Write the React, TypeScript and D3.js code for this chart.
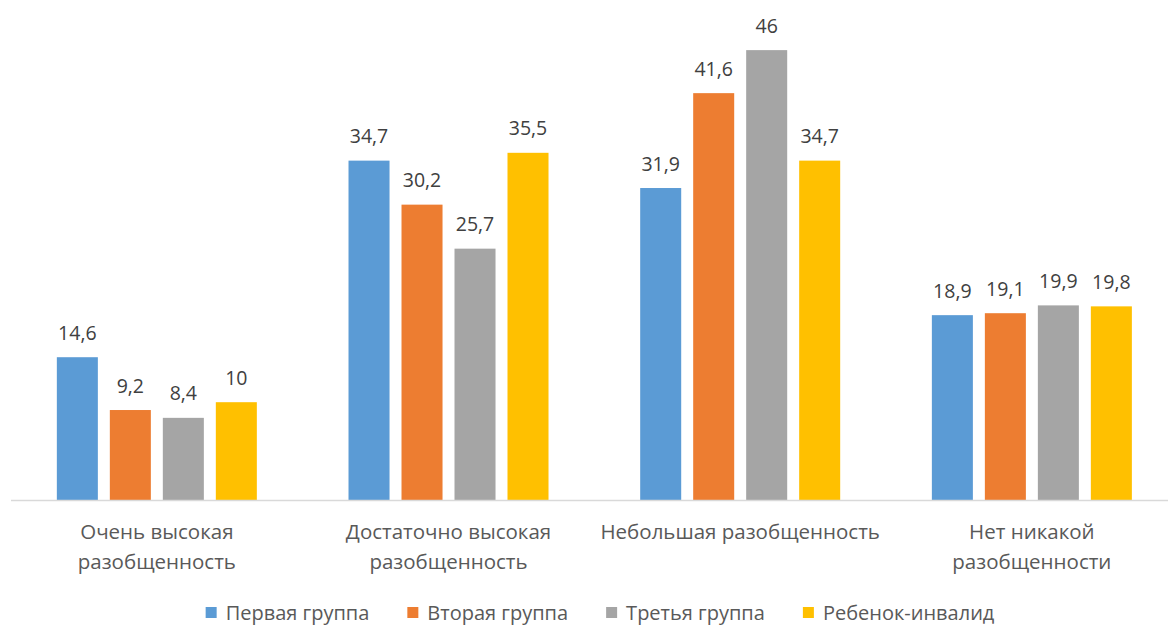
import React from "react";
import * as d3 from "d3";

const categories = [
  ["Очень высокая", "разобщенность"],
  ["Достаточно высокая", "разобщенность"],
  ["Небольшая разобщенность"],
  ["Нет никакой", "разобщенности"],
];
const seriesNames = ["Первая группа", "Вторая группа", "Третья группа", "Ребенок-инвалид"];
const seriesColors = ["#5B9BD5", "#ED7D31", "#A5A5A5", "#FFC000"];
const values = [
  [14.6, 34.7, 31.9, 18.9],
  [9.2, 30.2, 41.6, 19.1],
  [8.4, 25.7, 46, 19.9],
  [10, 35.5, 34.7, 19.8],
];

const W = 1168;
const H = 625;
const FONT = "'Open Sans', sans-serif";

function measure(text: string, size: number) {
  if (typeof document === "undefined") return text.length * size * 0.55;
  const c = document.createElement("canvas").getContext("2d");
  if (!c) return text.length * size * 0.55;
  c.font = `${size}px 'Open Sans'`;
  return c.measureText(text).width;
}

export default function App() {
  const catIdx = categories.map((_, i) => String(i));
  const x = d3.scaleBand<string>().domain(catIdx).range([11, 1177.7]).paddingInner(0).paddingOuter(0);
  const bw = x.bandwidth();
  const groupW = 200;
  const xs = d3
    .scaleBand<string>()
    .domain(seriesNames)
    .range([(bw - groupW) / 2, (bw + groupW) / 2])
    .paddingInner(0.226);
  const y = d3.scaleLinear().domain([0, 50]).range([500, 11]);

  const legendSize = 20;
  const sq = 11;
  const gapSq = 9;
  const items = seriesNames.map((n) => ({ n, w: measure(n, legendSize) }));
  const totalW = items.reduce((s, it, i) => s + sq + gapSq + it.w + (i < items.length - 1 ? 38 : 0), 0);
  let cx = 600 - totalW / 2;
  const legendItems = items.map((it, i) => {
    const r = { ...it, x: cx, color: seriesColors[i] };
    cx += sq + gapSq + it.w + 38;
    return r;
  });

  return (
    <svg
      width={W}
      height={H}
      style={{ position: "absolute", left: 0, top: 0, background: "#fff" }}
      fontFamily={FONT}
    >
      {seriesNames.map((s, si) =>
        values[si].map((v, ci) => {
          const bx = (x(String(ci)) as number) + (xs(s) as number);
          return (
            <g key={`${si}-${ci}`}>
              <rect x={bx} y={y(v)} width={xs.bandwidth()} height={y(0) - y(v)} fill={seriesColors[si]} />
              <text
                x={bx + xs.bandwidth() / 2}
                y={y(v) - 17.5}
                textAnchor="middle"
                fontSize={19.5}
                fill="#404040"
              >
                {String(v).replace(".", ",")}
              </text>
            </g>
          );
        })
      )}
      <line x1={11} x2={W} y1={500.5} y2={500.5} stroke="#D9D9D9" strokeWidth={1.5} />
      {categories.map((lines, ci) => (
        <text
          key={ci}
          x={(x(String(ci)) as number) + bw / 2}
          y={539}
          textAnchor="middle"
          fontSize={20.5}
          fill="#595959"
        >
          {lines.map((l, li) => (
            <tspan key={li} x={(x(String(ci)) as number) + bw / 2} dy={li === 0 ? 0 : 30}>
              {l}
            </tspan>
          ))}
        </text>
      ))}
      {legendItems.map((it, i) => (
        <g key={i}>
          <rect x={it.x} y={607} width={sq} height={sq} fill={it.color} />
          <text x={it.x + sq + gapSq} y={619.5} fontSize={legendSize} fill="#595959">
            {it.n}
          </text>
        </g>
      ))}
    </svg>
  );
}
